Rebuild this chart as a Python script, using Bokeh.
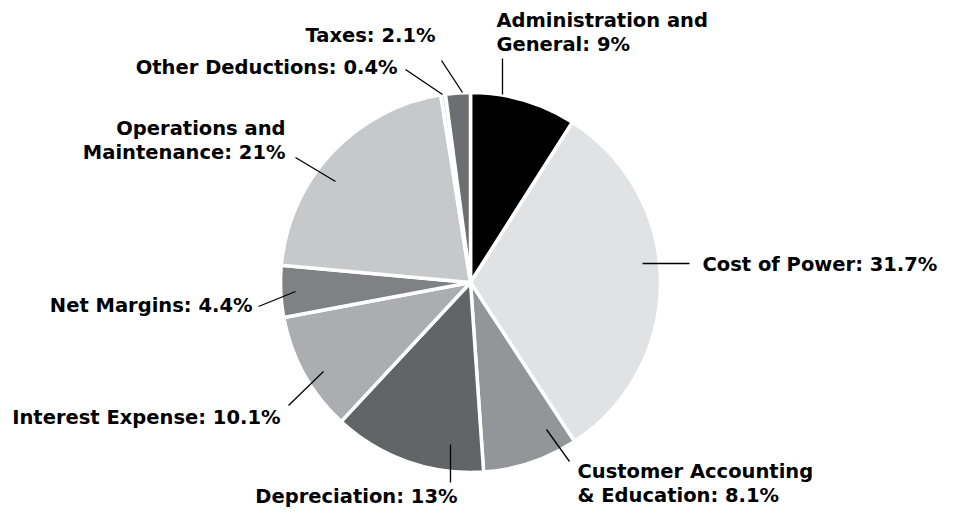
import math
from bokeh.plotting import figure
from bokeh.models import Range1d, ColumnDataSource
from bokeh.core.properties import value
from bokeh.embed import file_html
from bokeh.resources import INLINE

# ---- data ----
categories = ["Administration and\nGeneral", "Cost of Power", "Customer Accounting\n& Education",
              "Depreciation", "Interest Expense", "Net Margins",
              "Operations and\nMaintenance", "Other Deductions", "Taxes"]
percentages = [9, 31.7, 8.1, 13, 10.1, 4.4, 21, 0.4, 2.1]
colors = ["#000000", "#e1e2e4", "#939598", "#636466", "#acadb0", "#808184",
          "#c7c8ca", "#dedfe1", "#6d6e71"]

# ---- layout (picture pixel coordinates) ----
W, H = 943, 510
CX, CY, R = 470, 282, 190
# label anchor (x, y of first line), alignment
label_pos = [(496, 20, "left"), (702, 264, "left"), (577, 471, "left"),
             (457, 496, "right"), (280, 417, "right"), (252, 305, "right"),
             (285, 128, "right"), (397, 67, "right"), (435, 35, "right")]
leaders = [((502, 58), (502, 94)), ((642, 263), (689, 263)), ((546, 429), (569, 461)),
           ((450, 444), (450, 482)), ((288, 405), (323, 371)), ((258, 306), (295, 291)),
           ((295, 157), (335, 181)), ((405, 69), (442, 94)), ((441, 60), (462, 92))]
LINE_H = 24


def Y(yimg):
    return H - yimg


p = figure(width=W, height=H, output_backend="svg", toolbar_location=None,
           x_range=Range1d(0, W), y_range=Range1d(0, H),
           x_axis_type=None, y_axis_type=None, min_border=0)
p.grid.visible = False
p.outline_line_color = None
p.background_fill_color = "white"

total = sum(percentages)
starts, ends = [], []
a = math.pi / 2
for v in percentages:
    starts.append(a)
    a -= v / total * 2 * math.pi
    ends.append(a)

src = ColumnDataSource(dict(start=starts, end=ends, color=colors))
p.wedge(x=CX, y=Y(CY), radius=R, start_angle="start", end_angle="end",
        direction="clock", fill_color="color", line_color="white", line_width=3.5,
        source=src)

# leader lines
p.segment(x0=[l[0][0] for l in leaders], y0=[Y(l[0][1]) for l in leaders],
          x1=[l[1][0] for l in leaders], y1=[Y(l[1][1]) for l in leaders],
          line_color="black", line_width=1.3)

# labels
groups = {"left": dict(x=[], y=[], t=[]), "right": dict(x=[], y=[], t=[])}
for cat, v, (lx, ly, al) in zip(categories, percentages, label_pos):
    txt = f"{cat}: {v:g}%"
    for i, line in enumerate(txt.split("\n")):
        groups[al]["x"].append(lx)
        groups[al]["y"].append(Y(ly + i * LINE_H))
        groups[al]["t"].append(line)

for al, g in groups.items():
    p.text(x=g["x"], y=g["y"], text=g["t"], text_align=al, text_baseline="middle",
           text_font=value("DejaVu Sans"), text_font_style="bold",
           text_font_size="19.5px", text_color="black")

open("out.html", "w").write(file_html(p, INLINE))
